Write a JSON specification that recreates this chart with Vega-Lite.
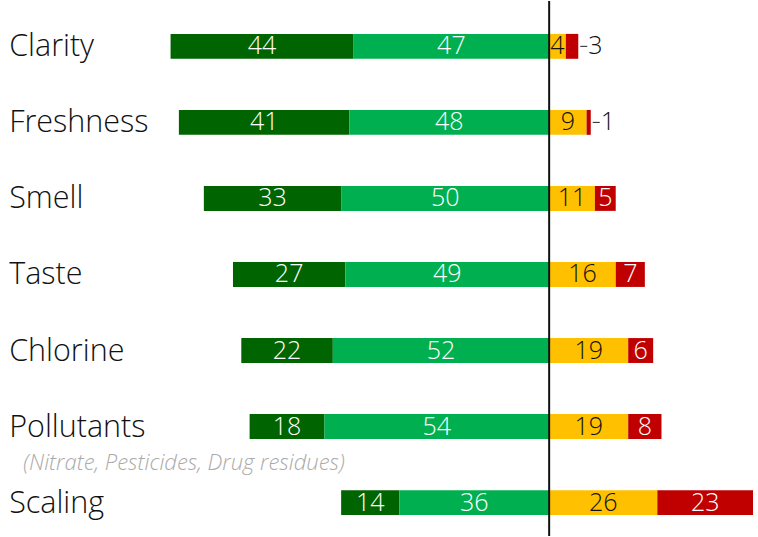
{
  "$schema": "https://vega.github.io/schema/vega-lite/v6.json",
  "width": 758,
  "height": 537,
  "autosize": {"type": "fit", "contains": "padding"},
  "padding": 0,
  "config": {"view": {"stroke": null}, "font": "Open Sans"},
  "layer": [
    {
      "data": {
        "values": [
          {"item": "Clarity", "rating": "Very satisfied", "k": 2, "side": "neg", "value": 44},
          {"item": "Clarity", "rating": "Satisfied", "k": 1, "side": "neg", "value": 47},
          {"item": "Clarity", "rating": "Dissatisfied", "k": 3, "side": "pos", "value": 4},
          {"item": "Clarity", "rating": "Very dissatisfied", "k": 4, "side": "pos", "value": 3},
          {"item": "Freshness", "rating": "Very satisfied", "k": 2, "side": "neg", "value": 41},
          {"item": "Freshness", "rating": "Satisfied", "k": 1, "side": "neg", "value": 48},
          {"item": "Freshness", "rating": "Dissatisfied", "k": 3, "side": "pos", "value": 9},
          {"item": "Freshness", "rating": "Very dissatisfied", "k": 4, "side": "pos", "value": 1},
          {"item": "Smell", "rating": "Very satisfied", "k": 2, "side": "neg", "value": 33},
          {"item": "Smell", "rating": "Satisfied", "k": 1, "side": "neg", "value": 50},
          {"item": "Smell", "rating": "Dissatisfied", "k": 3, "side": "pos", "value": 11},
          {"item": "Smell", "rating": "Very dissatisfied", "k": 4, "side": "pos", "value": 5},
          {"item": "Taste", "rating": "Very satisfied", "k": 2, "side": "neg", "value": 27},
          {"item": "Taste", "rating": "Satisfied", "k": 1, "side": "neg", "value": 49},
          {"item": "Taste", "rating": "Dissatisfied", "k": 3, "side": "pos", "value": 16},
          {"item": "Taste", "rating": "Very dissatisfied", "k": 4, "side": "pos", "value": 7},
          {"item": "Chlorine", "rating": "Very satisfied", "k": 2, "side": "neg", "value": 22},
          {"item": "Chlorine", "rating": "Satisfied", "k": 1, "side": "neg", "value": 52},
          {"item": "Chlorine", "rating": "Dissatisfied", "k": 3, "side": "pos", "value": 19},
          {"item": "Chlorine", "rating": "Very dissatisfied", "k": 4, "side": "pos", "value": 6},
          {"item": "Pollutants", "rating": "Very satisfied", "k": 2, "side": "neg", "value": 18},
          {"item": "Pollutants", "rating": "Satisfied", "k": 1, "side": "neg", "value": 54},
          {"item": "Pollutants", "rating": "Dissatisfied", "k": 3, "side": "pos", "value": 19},
          {"item": "Pollutants", "rating": "Very dissatisfied", "k": 4, "side": "pos", "value": 8},
          {"item": "Scaling", "rating": "Very satisfied", "k": 2, "side": "neg", "value": 14},
          {"item": "Scaling", "rating": "Satisfied", "k": 1, "side": "neg", "value": 36},
          {"item": "Scaling", "rating": "Dissatisfied", "k": 3, "side": "pos", "value": 26},
          {"item": "Scaling", "rating": "Very dissatisfied", "k": 4, "side": "pos", "value": 23}
        ]
      },
      "transform": [
        {"calculate": "datum.side == 'neg' ? -datum.value : datum.value", "as": "signed"},
        {"stack": "signed", "groupby": ["item"], "sort": [{"field": "k", "order": "ascending"}], "as": ["x0", "x1"]},
        {"calculate": "(datum.x0 + datum.x1) / 2", "as": "mid"}
      ],
      "encoding": {
        "y": {
          "field": "item",
          "type": "nominal",
          "sort": ["Clarity", "Freshness", "Smell", "Taste", "Chlorine", "Pollutants", "Scaling"],
          "scale": {"paddingInner": 0.6725, "paddingOuter": 0.354, "align": 0.611},
          "axis": null
        }
      },
      "layer": [
        {
          "mark": {"type": "bar"},
          "encoding": {
            "x": {"field": "x0", "type": "quantitative", "scale": {"domain": [-132, 50.2], "nice": false, "zero": false}, "axis": null},
            "x2": {"field": "x1"},
            "color": {
              "field": "rating",
              "type": "nominal",
              "scale": {
                "domain": ["Very satisfied", "Satisfied", "Dissatisfied", "Very dissatisfied"],
                "range": ["#006400", "#00B050", "#FFC000", "#C00000"]
              },
              "legend": null
            }
          }
        },
        {
          "transform": [{"filter": "datum.value >= 4"}],
          "mark": {"type": "text", "fontSize": 25, "fontWeight": 300, "baseline": "middle", "align": "center"},
          "encoding": {
            "x": {"field": "mid", "type": "quantitative"},
            "text": {"field": "value", "type": "quantitative"},
            "color": {
              "condition": {"test": "datum.rating == 'Dissatisfied'", "value": "#111111"},
              "value": "#ffffff"
            }
          }
        },
        {
          "transform": [{"filter": "datum.value < 4"}],
          "mark": {"type": "rule", "color": "#222222", "strokeWidth": 1, "xOffset": 2, "x2Offset": 9},
          "encoding": {
            "x": {"field": "x1", "type": "quantitative"},
            "x2": {"field": "x1"}
          }
        },
        {
          "transform": [{"filter": "datum.value < 4"}],
          "mark": {"type": "text", "fontSize": 25, "fontWeight": 300, "baseline": "middle", "align": "left", "dx": 10, "color": "#111111"},
          "encoding": {
            "x": {"field": "x1", "type": "quantitative"},
            "text": {"field": "value", "type": "quantitative"}
          }
        },
        {
          "transform": [{"filter": "datum.k == 1"}],
          "mark": {"type": "text", "fontSize": 30.5, "fontWeight": 300, "baseline": "middle", "align": "left", "dy": 1, "color": "#111111"},
          "encoding": {
            "x": {"datum": -129.8},
            "text": {"field": "item", "type": "nominal"}
          }
        },
        {
          "transform": [{"filter": "datum.k == 1 && datum.item == 'Pollutants'"}],
          "mark": {"type": "text", "fontSize": 22, "fontWeight": 300, "fontStyle": "italic", "baseline": "middle", "align": "left", "dy": 36, "color": "#aaaaaa"},
          "encoding": {
            "x": {"datum": -126.4},
            "text": {"value": "(Nitrate, Pesticides, Drug residues)"}
          }
        }
      ]
    },
    {
      "data": {"values": [{"center": 0}]},
      "mark": {"type": "rule", "color": "#111111", "strokeWidth": 2},
      "encoding": {"x": {"field": "center", "type": "quantitative"}}
    }
  ]
}
